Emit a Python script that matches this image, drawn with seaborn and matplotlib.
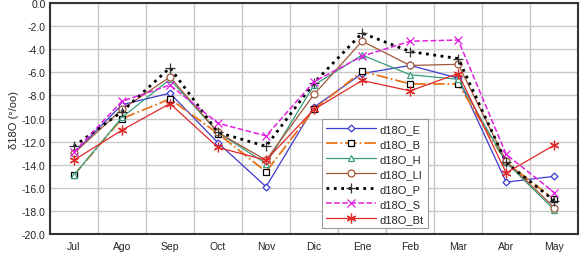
import numpy as np
import pandas as pd
import matplotlib
matplotlib.use("Agg")
import matplotlib.pyplot as plt
import seaborn as sns

# ==========================
# Data
# ==========================
months = ["Jul", "Ago", "Sep", "Oct", "Nov", "Dic", "Ene", "Feb", "Mar", "Abr", "May"]

d18O_E = [-13.0, -8.8, -7.8, -12.1, -15.9, -9.0, -6.1, -5.4, -6.5, -15.5, -15.0]
d18O_B = [-14.9, -10.0, -8.3, -11.3, -14.6, -9.2, -5.9, -7.0, -7.0, -13.8, -17.0]
d18O_H = [-14.9, -9.9, -6.6, -11.2, -13.9, -7.1, -4.5, -6.2, -6.6, -13.8, -17.9]
d18O_LI = [-13.0, -9.2, -6.4, -11.2, -13.6, -7.9, -3.3, -5.4, -5.3, -13.7, -17.7]
d18O_P = [-12.4, -9.4, -5.6, -11.2, -12.4, -6.9, -2.6, -4.2, -4.8, -13.8, -17.1]
d18O_S = [-12.9, -8.5, -7.1, -10.4, -11.5, -6.8, -4.6, -3.3, -3.2, -13.1, -16.4]
d18O_Bt = [-13.6, -11.0, -8.7, -12.5, -13.6, -9.2, -6.7, -7.6, -6.1, -14.7, -12.3]

series_names = ["d18O_E", "d18O_B", "d18O_H", "d18O_LI", "d18O_P", "d18O_S", "d18O_Bt"]
series_values = [d18O_E, d18O_B, d18O_H, d18O_LI, d18O_P, d18O_S, d18O_Bt]

# ==========================
# Styles
# ==========================
styles = {
    "d18O_E":  dict(color="#3b3bd0", ls="-",  lw=0.9, marker="D", ms=3.5, mec="#3b3bd0", mfc="white"),
    "d18O_B":  dict(color="#e8731a", ls="-.", lw=1.3, marker="s", ms=5,   mec="black",   mfc="white"),
    "d18O_H":  dict(color="#3a9e7e", ls="-",  lw=0.9, marker="^", ms=5,   mec="#3a9e7e", mfc="white"),
    "d18O_LI": dict(color="#a0583a", ls="-",  lw=0.9, marker="o", ms=5,   mec="#a0583a", mfc="white"),
    "d18O_P":  dict(color="black",   ls=":",  lw=2.0, marker="+", ms=7,   mec="#333333", mfc="none"),
    "d18O_S":  dict(color="#e020e0", ls="--", lw=1.1, marker="x", ms=6,   mec="#e020e0", mfc="none"),
    "d18O_Bt": dict(color="#e02828", ls="-",  lw=0.9, marker=(6, 2, 0), ms=7, mec="#e02828", mfc="none"),
}

# ==========================
# Plot
# ==========================
sns.set_style("whitegrid")
plt.rcParams["font.family"] = ["Liberation Sans", "DejaVu Sans"]

fig = plt.figure(figsize=(5.8, 2.55), dpi=100)
ax = fig.add_axes([0.086, 0.078, 0.911, 0.906])

x = np.arange(len(months))
for name, vals in zip(series_names, series_values):
    st = styles[name]
    sns.lineplot(
        x=x, y=vals, ax=ax, label=name,
        color=st["color"], linestyle=st["ls"], linewidth=st["lw"],
        marker=st["marker"], markersize=st["ms"],
        markeredgecolor=st["mec"], markerfacecolor=st["mfc"],
        markeredgewidth=0.9,
    )

# ==========================
# Axes
# ==========================
ax.set_xlim(-0.5, len(months) - 0.5)
ax.set_ylim(-20, 0)
ax.set_xticks(x)
ax.set_xticklabels(months, fontsize=7.5)
ax.set_xticks(np.arange(-0.5, len(months), 1.0), minor=True)
ax.set_yticks(np.arange(-20, 0.1, 2))
ax.set_yticklabels([f"{v:.1f}".replace("\u2212", "-") for v in np.arange(-20, 0.1, 2)], fontsize=7.5)

ax.grid(False)
ax.grid(True, which="minor", axis="x", color="#c8c8c8", linewidth=1.0)
ax.grid(True, which="major", axis="y", color="#c8c8c8", linewidth=1.0)
ax.tick_params(axis="x", which="major", length=0, pad=5)
ax.tick_params(axis="x", which="minor", length=3, width=1, color="#333333", direction="out")
ax.tick_params(axis="y", which="major", length=0, pad=3)

for side in ["left", "bottom", "top", "right"]:
    ax.spines[side].set_visible(True)
    ax.spines[side].set_color("#333333")
    ax.spines[side].set_linewidth(1.5)

ax.set_xlabel("")
ax.set_ylabel("δ18O (°/oo)", fontsize=8, labelpad=2)

leg = ax.legend(
    loc="lower left", bbox_to_anchor=(0.515, 0.025),
    fontsize=8, handlelength=4.5, labelspacing=0.45,
    frameon=True, fancybox=False, framealpha=1,
    borderpad=0.4, handletextpad=0.3, borderaxespad=0,
)
leg.get_frame().set_edgecolor("#999999")
leg.get_frame().set_linewidth(0.8)

fig.savefig("out.png", dpi=100)
